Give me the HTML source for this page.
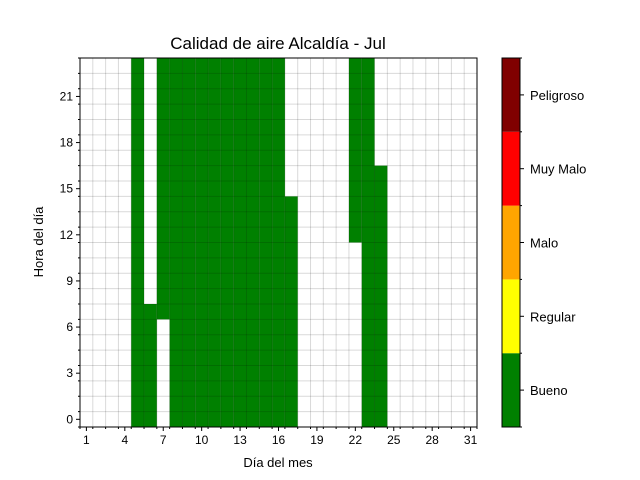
<!DOCTYPE html>
<html><head><meta charset="utf-8"><style>
body{margin:0;background:#fff;}
svg{display:block;font-family:"Liberation Sans","DejaVu Sans",sans-serif;}
</style></head><body>
<svg id="c" width="640" height="480">
<text x="278" y="49" font-size="17" text-anchor="middle">Calidad de aire Alcaldía - Jul</text>
<text x="278" y="467" font-size="13" text-anchor="middle">Día del mes</text>
<text transform="translate(43,242) rotate(-90)" font-size="13" text-anchor="middle">Hora del día</text>
<g id="cells"></g><g id="grid"></g><g id="axes"></g><g id="cbar"></g>
</svg>
<script>
// Green cells: [day, fromHour, toHour] inclusive, level 0 (Bueno)
const days = [5,6,7,8,9,10,11,12,13,14,15,16,17,22,23,24];
const fromHour = [0,0,7,0,0,0,0,0,0,0,0,0,0,12,0,0];
const toHour = [23,7,23,23,23,23,23,23,23,23,23,23,14,23,23,16];
const levelColors = ["#008000","#ffff00","#ffa500","#ff0000","#800000"];
const levelLabels = ["Bueno","Regular","Malo","Muy Malo","Peligroso"];
const xTicks = [1,4,7,10,13,16,19,22,25,28,31];
const yTicks = [0,3,6,9,12,15,18,21];

const L=80,R=477,T=58,B=427,NS="http://www.w3.org/2000/svg";
const X=d=>L+(d-0.5)*(R-L)/31;
const Y=h=>B-(h+0.5)*(B-T)/24;
function mk(tag,attrs,parent){const e=document.createElementNS(NS,tag);for(const k in attrs)e.setAttribute(k,attrs[k]);parent.appendChild(e);return e;}
const cells=document.getElementById('cells'),grid=document.getElementById('grid'),axes=document.getElementById('axes'),cb=document.getElementById('cbar');
days.forEach((d,i)=>{
 const r=mk('rect',{x:X(d-0.5),y:Y(toHour[i]+0.5),width:X(d+0.5)-X(d-0.5),height:Y(fromHour[i]-0.5)-Y(toHour[i]+0.5),fill:levelColors[0]},cells);
 
 
});
for(let d=1;d<31;d++){const l=mk('line',{x1:X(d+0.5),x2:X(d+0.5),y1:T,y2:B,stroke:'#000','stroke-opacity':0.15,'stroke-width':1},grid);}
for(let h=0;h<23;h++){const l=mk('line',{y1:Y(h+0.5),y2:Y(h+0.5),x1:L,x2:R,stroke:'#000','stroke-opacity':0.15,'stroke-width':1},grid);}
const fr=mk('rect',{x:L,y:T,width:R-L,height:B-T,fill:'none',stroke:'#000','stroke-width':1},axes);


for(let d=0;d<=31;d++){mk('line',{x1:X(d+0.5),x2:X(d+0.5),y1:B,y2:B+2,stroke:'#000'},axes);}
for(let h=-1;h<=23;h++){mk('line',{y1:Y(h+0.5),y2:Y(h+0.5),x1:L,x2:L-2,stroke:'#000'},axes);}
xTicks.forEach(d=>{mk('line',{x1:X(d),x2:X(d),y1:B,y2:B+4,stroke:'#000'},axes);
 const t=mk('text',{x:X(d),y:B+17,'font-size':12,'text-anchor':'middle'},axes);t.textContent=d;
 });
yTicks.forEach(h=>{mk('line',{y1:Y(h),y2:Y(h),x1:L,x2:L-4,stroke:'#000'},axes);
 const t=mk('text',{x:L-7,y:Y(h)+4,'font-size':12,'text-anchor':'end'},axes);t.textContent=h;
 });
const cL=502,cR=520,seg=(B-T)/5;
levelColors.forEach((c,i)=>{
 const y0=B-(i+1)*seg;
 const r=mk('rect',{x:cL,y:y0,width:cR-cL,height:seg,fill:c},cb);
 
 
 mk('line',{x1:cR,x2:cR+4,y1:y0+seg/2,y2:y0+seg/2,stroke:'#000'},cb);
 mk('line',{x1:cR,x2:cR+2,y1:y0,y2:y0,stroke:'#000'},cb);
 const t=mk('text',{x:530,y:y0+seg/2+5,'font-size':13},cb);t.textContent=levelLabels[i];
 
});
mk('line',{x1:cR,x2:cR+2,y1:B,y2:B,stroke:'#000'},cb);
mk('rect',{x:cL,y:T,width:cR-cL,height:B-T,fill:'none',stroke:'#000'},cb);
</script>
</body></html>
